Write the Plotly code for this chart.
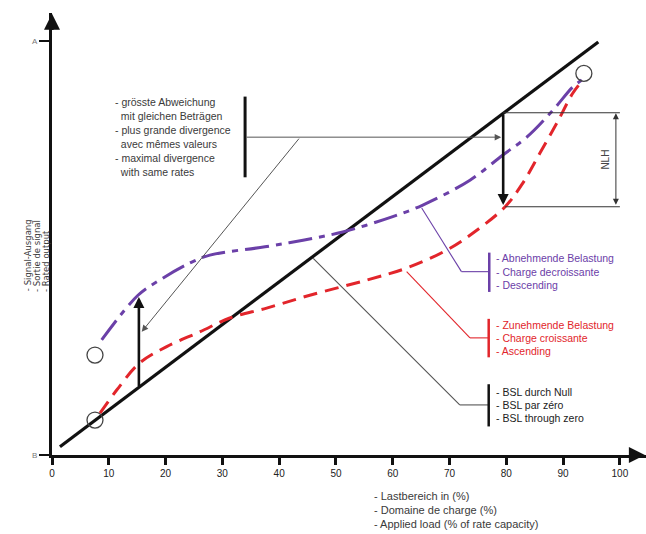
import plotly.graph_objects as go

# ---------------- data ----------------
x_ticks = [0, 10, 20, 30, 40, 50, 60, 70, 80, 90, 100]
y_tickvals = [0, 100]
y_ticktext = ["B", "A"]

bsl_x = [1.4, 96.2]
bsl_y = [2.0, 99.8]

desc_x = [8.75, 15.14, 19.0, 24.3, 27.8, 37.5, 44.2, 51.2, 60.0, 65.3, 73.6, 79.4, 83.6, 88.2, 91.7, 93.3]
desc_y = [27.8, 38.6, 42.3, 46.4, 48.3, 50.3, 51.9, 53.9, 57.6, 60.4, 66.4, 72.5, 76.8, 83.3, 88.9, 90.6]

asc_x = [8.45, 11.4, 15.4, 20.2, 26.1, 31.3, 37.8, 45.4, 55.5, 62.5, 69.5, 74.5, 79.8, 82.9, 85.9, 88.9, 91.7, 93.5]
asc_y = [10.1, 15.7, 22.2, 26.2, 29.8, 33.1, 35.5, 38.6, 42.3, 45.2, 49.5, 54.0, 60.0, 65.7, 72.9, 80.2, 87.4, 90.6]

circle_x = [7.57, 7.57, 93.66]
circle_y = [8.45, 24.15, 92.2]

callout_lines = ["- grösste Abweichung", "  mit gleichen Beträgen", "- plus grande divergence",
                 "  avec mêmes valeurs", "- maximal divergence", "  with same rates"]
desc_labels = ["- Abnehmende Belastung", "- Charge decroissante", "- Descending"]
asc_labels = ["- Zunehmende Belastung", "- Charge croissante", "- Ascending"]
bsl_labels = ["- BSL durch Null", "- BSL par zéro", "- BSL through zero"]
xtitle_lines = ["- Lastbereich in (%)", "- Domaine de charge (%)", "- Applied load (% of rate capacity)"]
ytitle_lines = ["- Signal-Ausgang", "- Sortie de signal", "- Rated output"]
nlh_label = "NLH"

# ---------------- styles ----------------
PURPLE = "#6b40a8"
RED = "#e2252b"
GREY = "#555555"
TXT = "#3a3a3a"
FONT = "Liberation Sans"

X_MAX = 104.6
Y_MAX = 106.8

fig = go.Figure()

fig.add_trace(go.Scatter(x=bsl_x, y=bsl_y, mode="lines",
                         line=dict(color="#111111", width=3.2), hoverinfo="skip"))
fig.add_trace(go.Scatter(x=asc_x, y=asc_y, mode="lines",
                         line=dict(color=RED, width=3, dash="14px,8px", shape="spline", smoothing=1.0),
                         hoverinfo="skip"))
fig.add_trace(go.Scatter(x=desc_x, y=desc_y, mode="lines",
                         line=dict(color=PURPLE, width=3, dash="24px,7px,6px,7px", shape="spline", smoothing=1.0),
                         hoverinfo="skip"))
fig.add_trace(go.Scatter(x=circle_x, y=circle_y, mode="markers",
                         marker=dict(symbol="circle-open", size=16, color="#444444", line=dict(width=1.3)),
                         hoverinfo="skip"))

shapes = []
annotations = []


def seg(x0, y0, x1, y1, color=GREY, width=1.0):
    shapes.append(dict(type="line", xref="x", yref="y", x0=x0, y0=y0, x1=x1, y1=y1,
                       line=dict(color=color, width=width)))


def arrow(x, y, ax, ay, color="#111111", width=3, head=2, size=1.0, side="end"):
    annotations.append(dict(x=x, y=y, ax=ax, ay=ay, xref="x", yref="y", axref="x", ayref="y",
                            text="", showarrow=True, arrowhead=head, arrowsize=size,
                            arrowwidth=width, arrowcolor=color, arrowside=side, standoff=0,
                            startstandoff=0))


def label(x, y, text, color=TXT, size=10, xanchor="left", angle=0, yanchor="middle"):
    annotations.append(dict(x=x, y=y, xref="x", yref="y", text=text, showarrow=False,
                            xanchor=xanchor, yanchor=yanchor, textangle=angle,
                            font=dict(family=FONT, size=size, color=color)))


# axis arrow heads
arrow(0, Y_MAX - 0.2, 0, Y_MAX - 4.5, width=3.2, head=2, size=1.0)
arrow(X_MAX - 0.2, 0, X_MAX - 3, 0, width=3.2, head=2, size=1.0)

# thick arrows (deviation)
arrow(15.3, 38.2, 15.3, 16.3, width=2.6, head=2, size=0.85)
arrow(79.45, 60.4, 79.45, 82.6, width=2.6, head=2, size=0.85)

# callout block (top left)
shapes.append(dict(type="line", xref="x", yref="y", x0=34.0, y0=86.6, x1=34.0, y1=67.1,
                   line=dict(color="#111111", width=3)))
arrow(79.1, 76.8, 34.0, 76.8, color=GREY, width=1.0, head=2, size=1.3)
arrow(15.8, 29.8, 43.7, 76.8, color=GREY, width=1.0, head=2, size=1.3)
for i, t in enumerate(callout_lines):
    label(10.7, 85.4 - i * 3.38, t.replace("  ", "&nbsp;&nbsp;"), size=10.5)

# NLH dimension
seg(79.45, 82.7, 100, 82.7, color="#333333", width=1.1)
seg(79.8, 60.0, 100, 60.0, color="#333333", width=1.1)
arrow(99.3, 82.6, 99.3, 60.1, color="#333333", width=1.0, head=2, size=1.2, side="end+start")
label(97.5, 71.3, nlh_label, size=10, xanchor="center", angle=-90, color="#444444")

# descending legend
seg(65.1, 59.7, 72.1, 44.3, color=PURPLE, width=1.1)
seg(72.1, 44.3, 77.0, 44.3, color=PURPLE, width=1.1)
shapes.append(dict(type="line", xref="x", yref="y", x0=77.0, y0=48.9, x1=77.0, y1=39.4,
                   line=dict(color=PURPLE, width=2.5)))
for i, t in enumerate(desc_labels):
    label(77.8, 47.5 - i * 3.22, t, color=PURPLE, size=10.5)

# ascending legend
seg(62.45, 44.3, 73.6, 28.3, color=RED, width=1.1)
seg(73.6, 28.3, 76.9, 28.3, color=RED, width=1.1)
shapes.append(dict(type="line", xref="x", yref="y", x0=76.9, y0=32.9, x1=76.9, y1=23.6,
                   line=dict(color=RED, width=2.5)))
for i, t in enumerate(asc_labels):
    label(77.8, 31.5 - i * 3.22, t, color=RED, size=10.5)

# BSL legend
seg(46.0, 47.5, 71.8, 12.1, color=GREY, width=1.1)
seg(71.8, 12.1, 76.9, 12.1, color=GREY, width=1.1)
shapes.append(dict(type="line", xref="x", yref="y", x0=76.9, y0=17.1, x1=76.9, y1=6.9,
                   line=dict(color="#111111", width=2.5)))
for i, t in enumerate(bsl_labels):
    label(77.8, 15.3 - i * 3.22, t, color="#222222", size=10.5)

# x axis title (three lines)
for i, t in enumerate(xtitle_lines):
    annotations.append(dict(x=56.4, y=-0.0928 - i * 0.0316, xref="x", yref="paper", text=t,
                            showarrow=False, xanchor="left", yanchor="middle",
                            font=dict(family=FONT, size=11, color=TXT)))

# y axis title (three rotated lines)
for i, t in enumerate(ytitle_lines):
    annotations.append(dict(x=-0.0412 + i * 0.0150, y=39.0, xref="paper", yref="y", text=t,
                            showarrow=False, xanchor="center", yanchor="bottom", textangle=-90,
                            font=dict(family="DejaVu Sans", size=8.5, color=TXT)))

fig.update_layout(
    width=646, height=534,
    margin=dict(l=52, r=0, t=13, b=79),
    paper_bgcolor="white", plot_bgcolor="white",
    showlegend=False, hovermode=False,
    shapes=shapes, annotations=annotations,
    xaxis=dict(range=[0, X_MAX], tickvals=x_ticks, ticktext=[str(v) for v in x_ticks],
               showgrid=False, zeroline=False, showline=True, linecolor="#111111", linewidth=3.2,
               ticks="outside", ticklen=7, tickwidth=2.6, tickcolor="#111111", automargin=False,
               tickfont=dict(family=FONT, size=10, color="#222222"), fixedrange=True),
    yaxis=dict(range=[0, Y_MAX], tickvals=y_tickvals, ticktext=y_ticktext,
               showgrid=False, zeroline=False, showline=True, linecolor="#111111", linewidth=3.2,
               ticks="outside", ticklen=10, tickwidth=2, tickcolor="#111111", automargin=False,
               tickfont=dict(family=FONT, size=8, color="#777777"), fixedrange=True),
)

fig.write_html("out.html", config={"displayModeBar": False},
               post_script="document.body.style.margin='0';")
